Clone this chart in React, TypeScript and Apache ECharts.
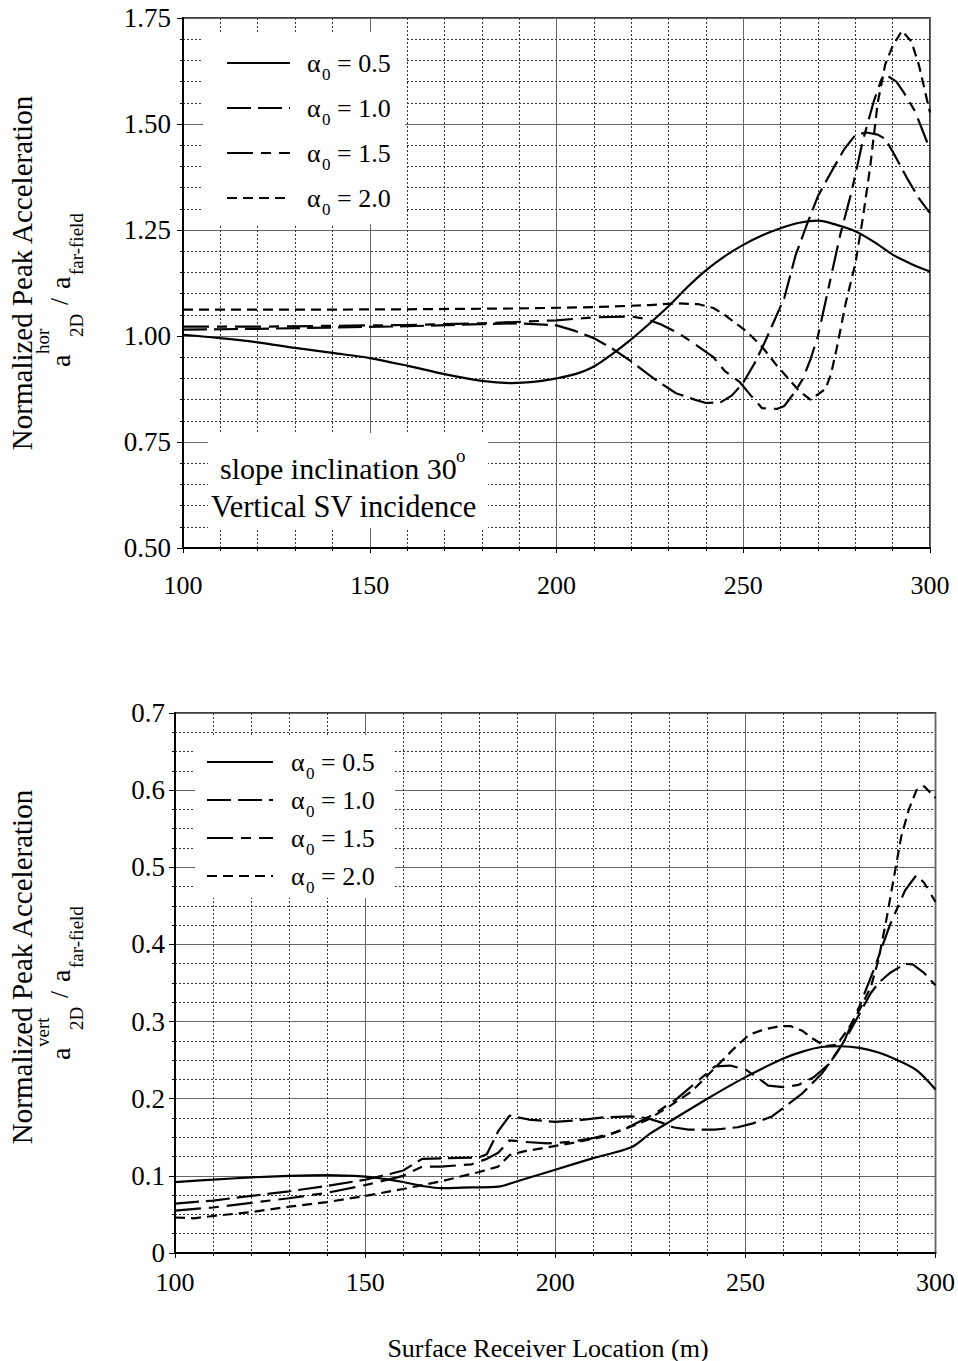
import React, { useEffect, useRef } from "react";
import * as echarts from "echarts";

// ---------- DATA ----------
const legendValues = ["0.5", "1.0", "1.5", "2.0"];
const xTitle = "Surface Receiver Location (m)";
const yTitle = "Normalized Peak Acceleration";

// Top chart: horizontal component
const hor05: number[][] = [
  [100, 1.003], [110, 0.995], [120, 0.985], [130, 0.972], [140, 0.96], [150, 0.948],
  [160, 0.93], [170, 0.91], [180, 0.894], [188, 0.889], [195, 0.893], [200, 0.9],
  [205, 0.91], [210, 0.928], [215, 0.958], [220, 0.992], [225, 1.03], [230, 1.07],
  [235, 1.115], [240, 1.155], [245, 1.188], [250, 1.215], [255, 1.237], [260, 1.254],
  [265, 1.267], [270, 1.272], [275, 1.262], [280, 1.247], [285, 1.222], [290, 1.192],
  [295, 1.17], [300, 1.152],
];
const hor10: number[][] = [
  [100, 1.015], [120, 1.017], [140, 1.02], [160, 1.023], [180, 1.028], [190, 1.03],
  [200, 1.025], [205, 1.012], [210, 0.995], [215, 0.97], [220, 0.94], [226, 0.9],
  [232, 0.865], [237, 0.85], [240, 0.842], [244, 0.844], [247, 0.86], [250, 0.89],
  [253, 0.935], [256, 0.99], [258, 1.03], [261, 1.09], [264, 1.19], [267, 1.262],
  [270, 1.33], [274, 1.394], [277, 1.44], [280, 1.474], [283, 1.48], [286, 1.475],
  [288, 1.465], [290, 1.435], [294, 1.37], [297, 1.325], [300, 1.29],
];
const hor15: number[][] = [
  [100, 1.022], [120, 1.022], [140, 1.024], [160, 1.026], [180, 1.03], [200, 1.037],
  [210, 1.044], [220, 1.046], [224, 1.04], [228, 1.027], [233, 1.005], [238, 0.975],
  [242, 0.95], [245, 0.918], [249, 0.892], [252, 0.86], [255, 0.83], [259, 0.828],
  [261, 0.835], [264, 0.87], [266, 0.9], [268, 0.945], [270, 1.0], [273, 1.12],
  [276, 1.24], [279, 1.34], [282, 1.46], [285, 1.555], [287, 1.605], [288, 1.617],
  [291, 1.6], [293, 1.574], [296, 1.53], [300, 1.44],
];
const hor20: number[][] = [
  [100, 1.062], [130, 1.062], [160, 1.063], [190, 1.065], [210, 1.068], [225, 1.073],
  [232, 1.077], [238, 1.075], [242, 1.066], [245, 1.05], [248, 1.03], [251, 1.01],
  [255, 0.975], [259, 0.93], [262, 0.9], [265, 0.87], [268, 0.85], [272, 0.875],
  [273.5, 0.91], [275, 0.97], [277.5, 1.08], [280, 1.17], [282, 1.277], [284, 1.4],
  [286, 1.55], [288, 1.64], [290, 1.684], [292.5, 1.72], [295, 1.695], [297, 1.64],
  [300, 1.527],
];

// Bottom chart: vertical component
const ver05: number[][] = [
  [100, 0.092], [110, 0.095], [120, 0.098], [130, 0.1], [140, 0.101], [150, 0.099],
  [155, 0.096], [160, 0.092], [165, 0.087], [170, 0.084], [178, 0.085], [185, 0.086],
  [190, 0.093], [200, 0.108], [210, 0.123], [220, 0.137], [225, 0.155], [230, 0.17],
  [240, 0.2], [250, 0.228], [260, 0.252], [265, 0.261], [270, 0.267], [275, 0.268],
  [280, 0.266], [285, 0.26], [290, 0.25], [295, 0.237], [300, 0.212],
];
const ver10: number[][] = [
  [100, 0.064], [110, 0.068], [120, 0.074], [130, 0.08], [140, 0.087], [150, 0.095],
  [157, 0.103], [160, 0.107], [165, 0.122], [180, 0.124], [182, 0.128], [185, 0.158],
  [188, 0.178], [193, 0.173], [200, 0.17], [206, 0.172], [213, 0.176], [220, 0.177],
  [224, 0.175], [228, 0.169], [231, 0.163], [235, 0.16], [242, 0.16], [248, 0.163],
  [252, 0.168], [257, 0.177], [261, 0.192], [265, 0.207], [270, 0.232], [274, 0.259],
  [277, 0.283], [280, 0.31], [283, 0.337], [285, 0.35], [288, 0.363], [292, 0.375],
  [294, 0.374], [297, 0.363], [300, 0.347],
];
const ver15: number[][] = [
  [100, 0.055], [110, 0.059], [120, 0.065], [130, 0.071], [140, 0.078], [150, 0.088],
  [160, 0.1], [165, 0.112], [170, 0.112], [178, 0.115], [182, 0.122], [185, 0.13],
  [188, 0.146], [192, 0.144], [198, 0.142], [204, 0.144], [210, 0.149], [215, 0.155],
  [220, 0.165], [226, 0.18], [232, 0.2], [238, 0.225], [242, 0.242], [246, 0.243],
  [250, 0.238], [253, 0.228], [256, 0.217], [260, 0.215], [264, 0.218], [268, 0.228],
  [272, 0.245], [276, 0.275], [280, 0.32], [284, 0.37], [288, 0.425], [292, 0.47],
  [295, 0.49], [297, 0.48], [300, 0.455],
];
const ver20: number[][] = [
  [100, 0.046], [105, 0.045], [110, 0.048], [120, 0.053], [130, 0.06], [140, 0.066],
  [150, 0.074], [160, 0.083], [170, 0.093], [180, 0.105], [185, 0.112], [188, 0.127],
  [192, 0.132], [198, 0.137], [205, 0.143], [212, 0.15], [218, 0.16], [224, 0.172],
  [230, 0.19], [236, 0.21], [242, 0.24], [247, 0.265], [251, 0.283], [255, 0.29],
  [259, 0.294], [262, 0.294], [265, 0.288], [268, 0.277], [271, 0.268], [274, 0.27],
  [277, 0.29], [280, 0.315], [283, 0.345], [285, 0.38], [287, 0.43], [289, 0.485],
  [291, 0.54], [293, 0.575], [295, 0.6], [297, 0.605], [300, 0.59],
];

// ---------- STYLE ----------
const FONT = "'Liberation Serif', 'Times New Roman', serif";
const dashes: (number[] | "solid")[] = ["solid", [24, 7], [26, 8, 10, 8], [10, 6]];

function axisX(gridIndex: number, margin: number) {
  return {
    type: "value", gridIndex, min: 100, max: 300, interval: 50,
    axisLine: { show: true, onZero: false, lineStyle: { color: "#000", width: 2 } },
    axisTick: { show: true, length: 5, lineStyle: { color: "#000", width: 1 } },
    minorTick: { show: true, splitNumber: 5, length: 3, lineStyle: { color: "#000" } },
    axisLabel: { color: "#000", fontFamily: FONT, fontSize: 26, margin, showMinLabel: true, showMaxLabel: true },
    splitLine: { show: true, lineStyle: { color: "#666", width: 1 } },
    minorSplitLine: { show: true, lineStyle: { color: "#333", width: 1, type: [2, 2] } },
  };
}
function axisY(gridIndex: number, min: number, max: number, interval: number, minor: number, fmt: (v: number) => string, margin: number) {
  return {
    type: "value", gridIndex, min, max, interval,
    axisLine: { show: true, onZero: false, lineStyle: { color: "#000", width: 2 } },
    axisTick: { show: true, length: 6, lineStyle: { color: "#000", width: 1 } },
    minorTick: { show: true, splitNumber: minor, length: 3, lineStyle: { color: "#000" } },
    axisLabel: { color: "#000", fontFamily: FONT, fontSize: 27, margin, formatter: fmt, showMinLabel: true, showMaxLabel: true },
    splitLine: { show: true, lineStyle: { color: "#666", width: 1 } },
    minorSplitLine: { show: true, lineStyle: { color: "#333", width: 1, type: [2, 2] } },
  };
}

function mkSeries(data: number[][], i: number, idx: number) {
  return {
    type: "line", xAxisIndex: idx, yAxisIndex: idx, data, symbol: "none", z: 3,
    smooth: i === 0 ? 0.3 : false,
    lineStyle: { color: "#000", width: 2.2, type: dashes[i] },
  };
}

function txt(x: number, y: number, text: string, fontSize: number, extra: any = {}) {
  return {
    type: "text", x, y, z: 20,
    style: { text, fontFamily: FONT, fontSize, fill: "#000", textAlign: "left", textVerticalAlign: "middle", ...extra },
  };
}

function legendBlock(lineX1: number, lineX2: number, textX: number, rows: number[]) {
  const els: any[] = [];
  rows.forEach((y, i) => {
    const d = dashes[i];
    els.push({
      type: "line", z: 20,
      shape: { x1: lineX1, y1: y, x2: lineX2, y2: y },
      style: { stroke: "#000", lineWidth: 2.2, lineDash: d === "solid" ? null : d },
    });
    els.push(txt(textX, y, "α", 26));
    els.push(txt(textX + 15, y + 11, "0", 17));
    els.push(txt(textX + 30, y, "= " + legendValues[i], 26));
  });
  return els;
}

function yTitleBlock(cx: number, cy: number, sup: string, bx: number, by: number) {
  return [
    { type: "text", x: cx, y: cy, rotation: Math.PI / 2, z: 20,
      style: { text: yTitle, fontFamily: FONT, fontSize: 29, fill: "#000", textAlign: "center", textVerticalAlign: "middle" } },
    {
      type: "group", x: bx, y: by, rotation: Math.PI / 2, z: 20,
      children: [
        { type: "text", x: 0, y: 0, style: { text: "a", fontFamily: FONT, fontSize: 28, fill: "#000", textVerticalAlign: "middle" } },
        { type: "text", x: 13, y: -18, style: { text: sup, fontFamily: FONT, fontSize: 19, fill: "#000", textVerticalAlign: "middle" } },
        { type: "text", x: 30, y: 16, style: { text: "2D", fontFamily: FONT, fontSize: 19, fill: "#000", textVerticalAlign: "middle" } },
        { type: "text", x: 62, y: -1, style: { text: "/", fontFamily: FONT, fontSize: 25, fill: "#000", textVerticalAlign: "middle" } },
        { type: "text", x: 78, y: 0, style: { text: "a", fontFamily: FONT, fontSize: 28, fill: "#000", textVerticalAlign: "middle" } },
        { type: "text", x: 92, y: 16, style: { text: "far-field", fontFamily: FONT, fontSize: 19, fill: "#000", textVerticalAlign: "middle" } },
      ],
    },
  ];
}

export default function App() {
  const ref = useRef<HTMLDivElement>(null);
  useEffect(() => {
    if (!ref.current) return;
    const chart = echarts.init(ref.current, undefined, { renderer: "svg" });
    const option: any = {
      animation: false,
      backgroundColor: "#fff",
      grid: [
        { left: 183, top: 18, width: 747, height: 530, show: true, borderColor: "#000", borderWidth: 1.5, backgroundColor: "transparent" },
        { left: 175, top: 713, width: 762, height: 540, show: true, borderColor: "#000", borderWidth: 1.5, backgroundColor: "transparent" },
      ],
      xAxis: [axisX(0, 24), axisX(1, 16)],
      yAxis: [
        axisY(0, 0.5, 1.75, 0.25, 5, (v: number) => v.toFixed(2), 12),
        axisY(1, 0, 0.7, 0.1, 4, (v: number) => (v === 0 ? "0" : v.toFixed(1)), 10),
      ],
      series: [
        ...[hor05, hor10, hor15, hor20].map((d, i) => mkSeries(d, i, 0)),
        ...[ver05, ver10, ver15, ver20].map((d, i) => mkSeries(d, i, 1)),
      ],
      graphic: [
        // white boxes
        { type: "rect", z: 15, shape: { x: 203, y: 32, width: 202, height: 192 }, style: { fill: "#fff" } },
        { type: "rect", z: 15, shape: { x: 208, y: 433, width: 280, height: 95 }, style: { fill: "#fff" } },
        { type: "rect", z: 15, shape: { x: 195, y: 735, width: 200, height: 163 }, style: { fill: "#fff" } },
        ...legendBlock(227, 290, 307, [63, 108, 153, 198]),
        ...legendBlock(207, 273, 291, [762, 800, 838, 876]),
        txt(220, 468, "slope inclination 30", 30),
        txt(456, 455, "o", 19),
        txt(211, 507, "Vertical SV incidence", 30.5),
        ...yTitleBlock(22, 273, "hor", 60, 367),
        ...yTitleBlock(22, 967, "vert", 60, 1060),
        txt(548, 1348, xTitle, 26, { textAlign: "center" }),
      ],
    };
    chart.setOption(option);
    return () => chart.dispose();
  }, []);
  return <div ref={ref} style={{ position: "absolute", left: 0, top: 0, width: 958, height: 1361, background: "#fff" }} />;
}
